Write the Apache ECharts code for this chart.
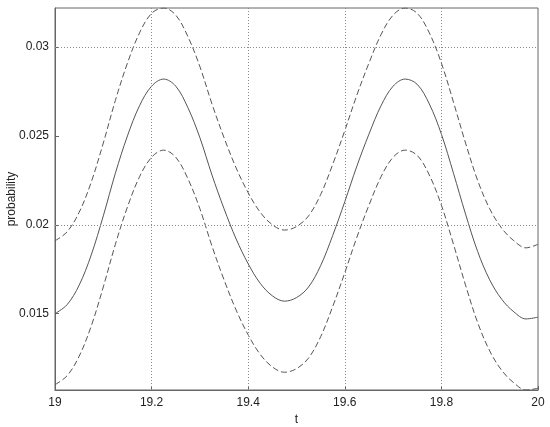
<!DOCTYPE html>
<html>
<head>
<meta charset="utf-8">
<script src="https://cdn.jsdelivr.net/npm/echarts@6.0.0/dist/echarts.min.js"></script>
<style>
  html, body { margin: 0; padding: 0; background: #fff; }
  #chart { width: 550px; height: 427px; }
</style>
</head>
<body>
<div id="chart"></div>
<script>
// time points (t)
const tValues = [
  19.000, 19.025, 19.050, 19.075, 19.100, 19.125, 19.150, 19.175, 19.200, 19.225,
  19.250, 19.275, 19.300, 19.325, 19.350, 19.375, 19.400, 19.425, 19.450, 19.475,
  19.500, 19.525, 19.550, 19.575, 19.600, 19.625, 19.650, 19.675, 19.700, 19.725,
  19.750, 19.775, 19.800, 19.825, 19.850, 19.875, 19.900, 19.925, 19.950, 19.975,
  20.000,
];

// solid line: probability
const meanValues = [
  0.0150, 0.0155, 0.0166, 0.0183, 0.0205, 0.0229, 0.0250, 0.0267, 0.0278, 0.0282,
  0.0278, 0.0266, 0.0249, 0.0228, 0.0209, 0.0192, 0.0178, 0.0167, 0.0160, 0.0157,
  0.0159, 0.0165, 0.0177, 0.0194, 0.0213, 0.0233, 0.0251, 0.0267, 0.0278, 0.0282,
  0.0279, 0.0268, 0.0251, 0.0229, 0.0206, 0.0185, 0.0169, 0.0158, 0.0151, 0.0147,
  0.0148,
];

// dashed upper bound
const upperValues = [
  0.0191, 0.0196, 0.0207, 0.0224, 0.0246, 0.0270, 0.0291, 0.0308, 0.0319, 0.0322,
  0.0318, 0.0306, 0.0289, 0.0268, 0.0249, 0.0232, 0.0218, 0.0207, 0.0200, 0.0197,
  0.0199, 0.0205, 0.0217, 0.0234, 0.0253, 0.0273, 0.0291, 0.0307, 0.0318, 0.0322,
  0.0319, 0.0308, 0.0291, 0.0269, 0.0246, 0.0225, 0.0209, 0.0198, 0.0191, 0.0187,
  0.0189,
];

// dashed lower bound
const lowerValues = [
  0.0110, 0.0115, 0.0126, 0.0143, 0.0165, 0.0189, 0.0210, 0.0227, 0.0238, 0.0242,
  0.0238, 0.0226, 0.0209, 0.0188, 0.0169, 0.0152, 0.0138, 0.0127, 0.0120, 0.0117,
  0.0119, 0.0125, 0.0137, 0.0154, 0.0173, 0.0193, 0.0211, 0.0227, 0.0238, 0.0242,
  0.0239, 0.0228, 0.0211, 0.0189, 0.0166, 0.0145, 0.0129, 0.0118, 0.0111, 0.0107,
  0.0108,
];

const yTicks = [0.015, 0.02, 0.025, 0.03];
const xGridTicks = [19.2, 19.4, 19.6, 19.8];

const pairs = (vals) => tValues.map((t, i) => [t, vals[i]]);

const font = "'Liberation Sans', Arial, sans-serif";
const lineColor = '#555';
const gridDots = { type: [1, 2], color: '#8a8a8a', width: 1 };

const chart = echarts.init(document.getElementById('chart'));

chart.setOption({
  animation: false,
  backgroundColor: '#fff',
  grid: {
    left: 55, right: 12, top: 8, bottom: 37,
    outerBoundsMode: 'none',
    containLabel: false,
    show: true, borderColor: '#666', borderWidth: 1,
  },
  xAxis: {
    type: 'value',
    min: 19,
    max: 20,
    interval: 0.2,
    name: 't',
    nameLocation: 'middle',
    nameGap: 21,
    nameTextStyle: { fontFamily: font, fontSize: 12, color: '#222' },
    axisLine: { lineStyle: { color: '#666' } },
    axisTick: { inside: true, length: 4, lineStyle: { color: '#666' } },
    axisLabel: { fontFamily: font, fontSize: 12, color: '#222', margin: 7 },
    splitLine: { show: false },
  },
  yAxis: {
    type: 'value',
    min: 0.0107,
    max: 0.0322,
    name: 'probability',
    nameLocation: 'middle',
    nameGap: 37,
    nameMoveOverlap: false,
    nameTextStyle: { fontFamily: font, fontSize: 12, color: '#222' },
    axisLine: { show: true, lineStyle: { color: '#666' } },
    axisTick: { inside: true, length: 4, customValues: yTicks, lineStyle: { color: '#666' } },
    axisLabel: {
      fontFamily: font, fontSize: 12, color: '#222', margin: 6,
      customValues: yTicks,
      formatter: (v) => String(+v.toFixed(4)),
    },
    splitLine: { show: false },
  },
  series: [
    {
      type: 'line',
      data: pairs(meanValues),
      smooth: 0.35,
      showSymbol: false,
      lineStyle: { color: lineColor, width: 1 },
      z: 3,
      markLine: {
        silent: true,
        symbol: 'none',
        label: { show: false },
        lineStyle: gridDots,
        data: [
          ...yTicks.map((v) => ({ yAxis: v })),
          ...xGridTicks.map((v) => ({ xAxis: v })),
        ],
      },
    },
    {
      type: 'line',
      data: pairs(upperValues),
      smooth: 0.35,
      showSymbol: false,
      lineStyle: { color: lineColor, width: 1, type: [6, 3] },
      z: 3,
    },
    {
      type: 'line',
      data: pairs(lowerValues),
      smooth: 0.35,
      showSymbol: false,
      lineStyle: { color: lineColor, width: 1, type: [6, 3] },
      z: 3,
    },
  ],
});
</script>
</body>
</html>
